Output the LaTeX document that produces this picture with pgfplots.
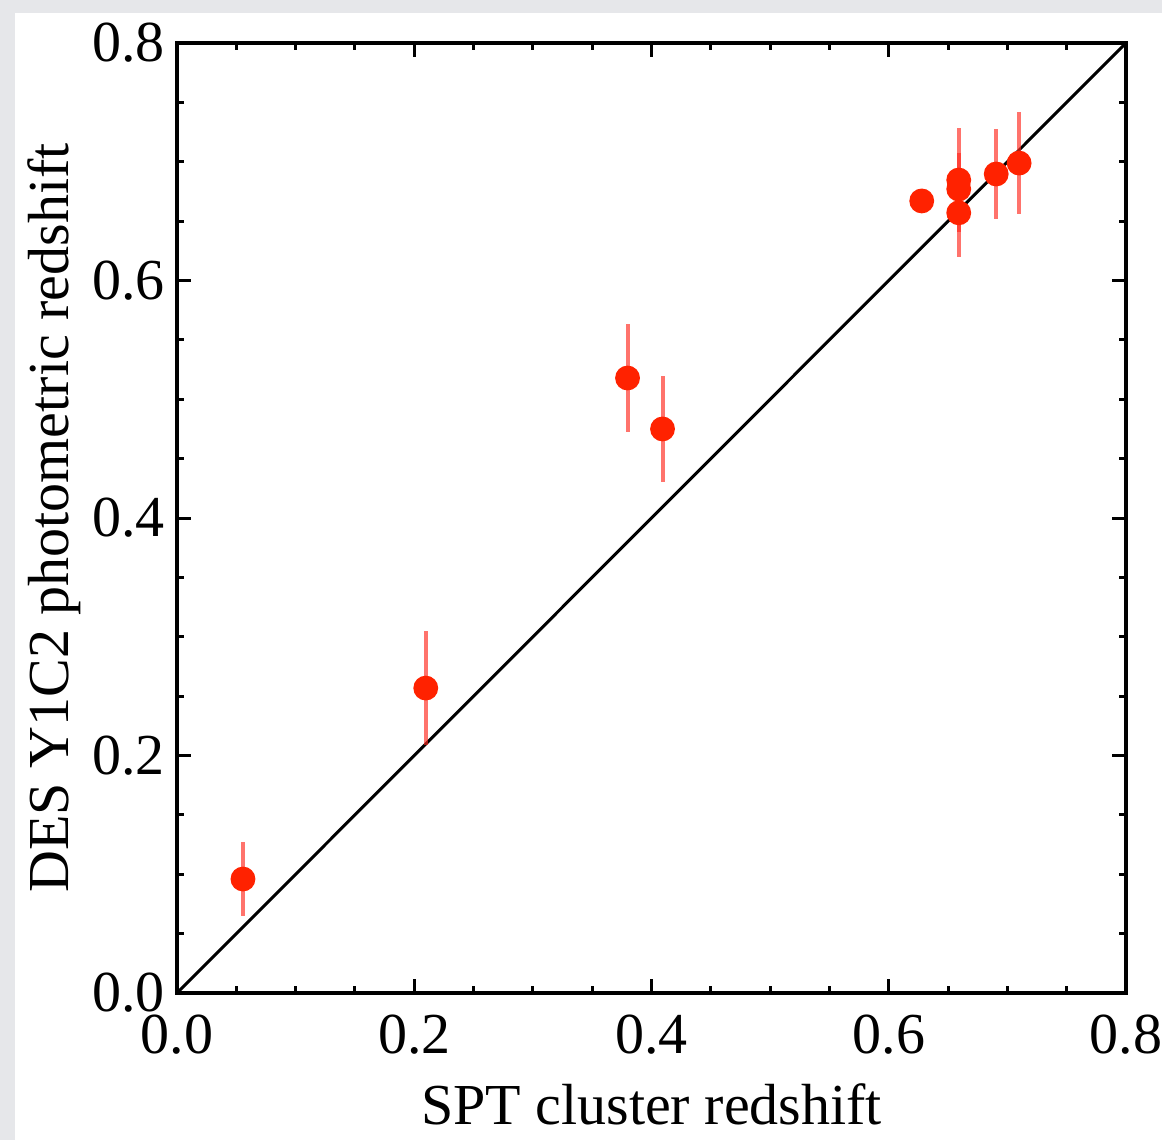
\documentclass[border=0pt]{standalone}
\usepackage{pgfplots}
\pgfplotsset{compat=1.18}
\usepackage{fontspec}
\setmainfont{Liberation Serif}
\definecolor{ptred}{RGB}{255,34,0}
\definecolor{errred}{RGB}{255,40,30}
\definecolor{frame}{RGB}{230,231,234}
\begin{document}
\fontsize{14.5}{17}\selectfont
\begin{tikzpicture}
\fill[frame] (0,0) rectangle (290.5pt,285pt);
\fill[white] (3.75pt,0) rectangle (290.5pt,281.75pt);
\begin{axis}[
  at={(44.25pt,36.75pt)}, anchor=south west,
  scale only axis, width=237.25pt, height=237.5pt,
  xmin=0, xmax=0.8, ymin=0, ymax=0.8,
  xtick={0,0.2,0.4,0.6,0.8}, ytick={0,0.2,0.4,0.6,0.8},
  minor xtick={0.05,0.1,0.15,0.25,0.3,0.35,0.45,0.5,0.55,0.65,0.7,0.75},
  minor ytick={0.05,0.1,0.15,0.25,0.3,0.35,0.45,0.5,0.55,0.65,0.7,0.75},
  tick align=inside, tick pos=both,
  major tick length=3.5pt, minor tick length=1.8pt,
  every tick/.style={black, line width=0.75pt},
  axis line style={line width=0.8pt},
  /pgf/number format/assume math mode=true,
  /pgf/number format/.cd, fixed, fixed zerofill, precision=1, /pgfplots/.cd,
  ticklabel style={font=\fontsize{14.5}{17}\selectfont},
  xticklabel style={yshift=-0.5pt},
  yticklabel style={xshift=2pt},
  xlabel={SPT cluster redshift},
  ylabel={DES Y1C2 photometric redshift},
  label style={font=\fontsize{14.5}{17}\selectfont},
  xlabel style={yshift=2.5pt},
  ylabel style={yshift=-7pt},
  clip=false,
]
\addplot[black, line width=0.75pt] coordinates {(0,0) (0.8,0.8)};
\addplot[only marks, mark=*, mark size=2.9pt, mark options={fill=ptred, draw=ptred},
  error bars/.cd, y dir=both, y explicit,
  error mark=none,
  error bar style={errred, opacity=0.65, line width=1pt}]
  coordinates {
  (0.0556,0.096) +- (0,0.031)
  (0.2097,0.2568) +- (0,0.048)
  (0.3798,0.5179) +- (0,0.0455)
  (0.4093,0.475) +- (0,0.0446)
  (0.6278,0.667) +- (0,0)
  (0.659,0.6846) +- (0,0.044)
  (0.659,0.677) +- (0,0.03)
  (0.659,0.657) +- (0,0.037)
  (0.6906,0.6897) +- (0,0.038)
  (0.7099,0.6989) +- (0,0.043)
  };
\end{axis}
\pgfresetboundingbox
\path (0,0) rectangle (290.5pt,285pt);
\end{tikzpicture}
\end{document}
